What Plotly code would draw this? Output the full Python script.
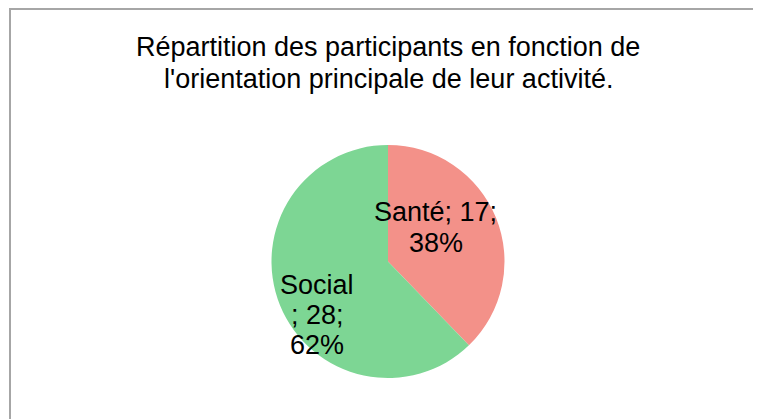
import plotly.graph_objects as go

categories = ["Santé", "Social"]
values = [17, 28]
colors = ["#F39189", "#7DD694"]
title_lines = ["Répartition des participants en fonction de",
               "l'orientation principale de leur activité."]

W, H = 761, 419
OFF = 8  # page offset of the plot in the browser (body margin)
FONT = "Liberation Sans, Arial, sans-serif"
FS = 27

# pie geometry (page pixels)
cx, cy, r = 388, 261.5, 116.5

total = sum(values)
pcts = [round(v * 100 / total) for v in values]
label_lines = [
    [f"{categories[0]}; {values[0]};", f"{pcts[0]}%"],
    [f"{categories[1]}", f"; {values[1]};", f"{pcts[1]}%"],
]
# label line placements (page pixels: center x, middle y)
label_pos = [
    [(435, 212), (436, 243)],
    [(317, 285), (317, 315), (317, 345)],
]
title_pos = [(388, 47), (388, 79)]


def px(x):
    return (x - OFF) / W


def py(y):
    return 1 - (y - OFF) / H


fig = go.Figure(go.Pie(
    labels=categories,
    values=values,
    textinfo="none",
    sort=False,
    direction="clockwise",
    rotation=0,
    marker=dict(colors=colors, line=dict(width=0)),
    hoverinfo="label+value+percent",
    showlegend=False,
    domain=dict(x=[px(cx - r), px(cx + r)], y=[py(cy + r), py(cy - r)]),
))

annotations = []
for lines, poss in zip(label_lines, label_pos):
    for t, (x, y) in zip(lines, poss):
        annotations.append(dict(text=t, x=px(x), y=py(y), xref="paper", yref="paper",
                                xanchor="center", yanchor="middle", showarrow=False,
                                font=dict(family=FONT, size=FS, color="black")))
for t, (x, y) in zip(title_lines, title_pos):
    annotations.append(dict(text=t, x=px(x), y=py(y), xref="paper", yref="paper",
                            xanchor="center", yanchor="middle", showarrow=False,
                            font=dict(family=FONT, size=FS, color="black")))

fig.update_layout(
    width=W, height=H,
    margin=dict(l=0, r=0, t=0, b=0),
    paper_bgcolor="white",
    plot_bgcolor="white",
    font=dict(family=FONT, color="black"),
    annotations=annotations,
    shapes=[dict(type="rect", xref="paper", yref="paper",
                 x0=px(10), x1=1.05, y0=-0.05, y1=py(9),
                 line=dict(color="#A6A6A6", width=2), fillcolor="rgba(0,0,0,0)")],
)

fig.write_html("out.html")
